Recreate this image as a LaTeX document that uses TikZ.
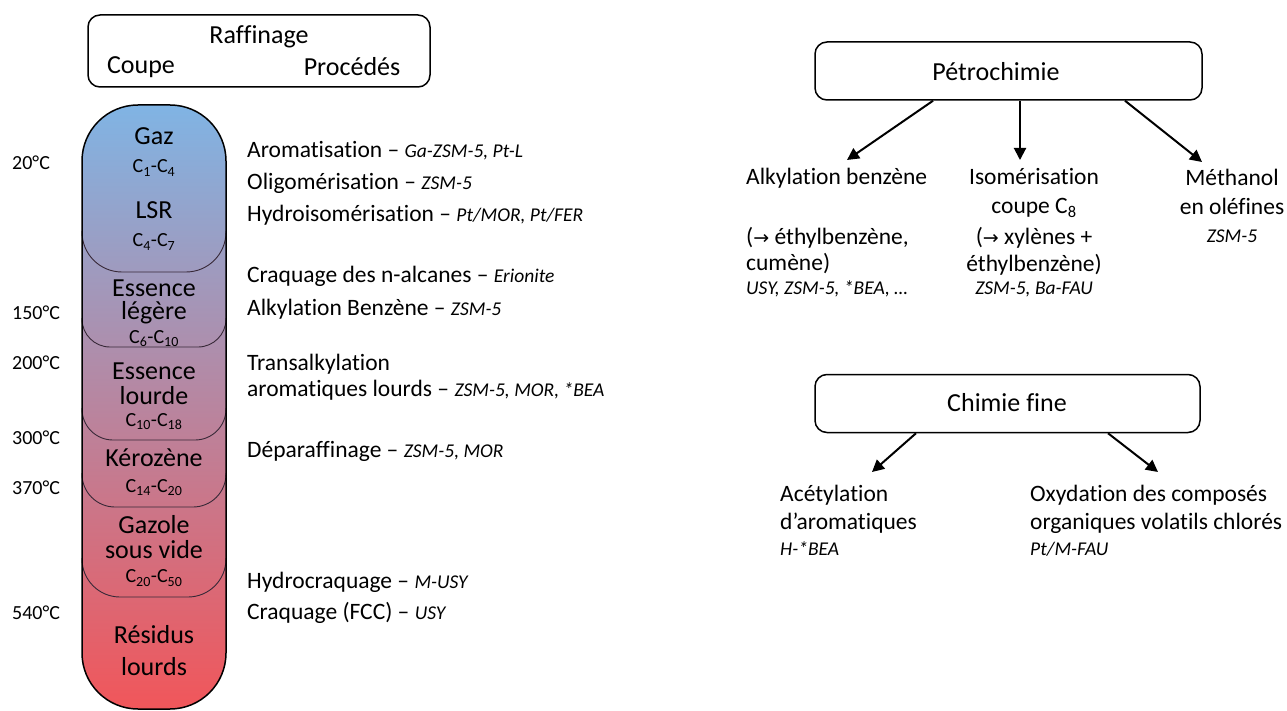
\documentclass[tikz,border=0pt]{standalone}
\usepackage{fontspec}
\setmainfont{Carlito}[Ligatures={TeX,NoCommon}]
\newfontfamily\symfont{DejaVu Sans}
\usetikzlibrary{arrows.meta}
\definecolor{colTop}{RGB}{128,180,228}
\definecolor{colMid}{RGB}{198,152,186}
\definecolor{colBot}{RGB}{241,86,90}
\definecolor{segcol}{RGB}{55,40,55}
\newcommand\zeo[1]{{\itshape\fontsize{19.5}{23}\selectfont #1}}
\newcommand\rarr{{\symfont\fontsize{19}{22}\selectfont →}}
\tikzset{
  frame/.style={draw, line width=1.5pt, rounded corners=12pt, inner sep=0pt},
  proc/.style={anchor=west, inner sep=0pt, font=\fontsize{23.5}{28}\selectfont},
  txt/.style={inner sep=0pt, font=\fontsize{23.5}{28}\selectfont},
  ital/.style={inner sep=0pt, font=\itshape\fontsize{19.5}{24}\selectfont},
  cut/.style={inner sep=0pt, font=\fontsize{26}{30}\selectfont},
  carb/.style={inner sep=0pt, font=\fontsize{20}{24}\selectfont},
  temp/.style={anchor=west, inner sep=0pt, font=\fontsize{20}{24}\selectfont},
  head/.style={inner sep=0pt, font=\fontsize{26}{30}\selectfont},
  segline/.style={draw=segcol, line width=0.9pt},
  arr/.style={line width=2pt, -{Triangle[length=12pt,width=12pt]}},
}
\begin{document}
\begin{tikzpicture}[x=1pt,y=-1pt]
\useasboundingbox (0,0) rectangle (1287,711);

% ---------- Raffinage header ----------
\node[frame, minimum width=342pt, minimum height=72pt] (raff) at (259,51) {};
\node[head] (raffT) at (259,37) {Raffinage};
\node[head] (coupe) at (141,67) {Coupe};
\node[head] (procs) at (352,67) {Procédés};

% ---------- column ----------
\path[top color=colTop, middle color=colMid, bottom color=colBot, rounded corners=56pt]
  (82,105) rectangle (226,709);
\foreach \b/\r in {272/40, 347/28, 440/31, 507/33, 597/38}
  \draw[segline, rounded corners=\r pt] (82,{\b-\r-1}) -- (82,\b) -- (226,\b) -- (226,{\b-\r-1});
\draw[line width=1.5pt, rounded corners=56pt] (82,105) rectangle (226,709);

\node[cut] (gaz) at (154,136) {Gaz};
\node[carb] (cgaz) at (154,168) {C\textsubscript{1}-C\textsubscript{4}};
\node[cut] (lsr) at (154,210) {LSR};
\node[carb] (clsr) at (154,242) {C\textsubscript{4}-C\textsubscript{7}};
\node[cut] (el1) at (154,288) {Essence};
\node[cut] (el2) at (154,313) {légère};
\node[carb] (cel) at (154,339) {C\textsubscript{6}-C\textsubscript{10}};
\node[cut] (eh1) at (154,371) {Essence};
\node[cut] (eh2) at (154,396) {lourde};
\node[carb] (ceh) at (154,422) {C\textsubscript{10}-C\textsubscript{18}};
\node[cut] (ker) at (154,458) {Kérozène};
\node[carb] (cker) at (154,488) {C\textsubscript{14}-C\textsubscript{20}};
\node[cut] (gv1) at (154,525) {Gazole};
\node[cut] (gv2) at (154,550) {sous vide};
\node[carb] (cgv) at (154,578) {C\textsubscript{20}-C\textsubscript{50}};
\node[cut] (rl1) at (154,635) {Résidus};
\node[cut] (rl2) at (154,667) {lourds};

% ---------- temperatures ----------
\node[temp] (t20) at (12,163) {20°C};
\node[temp] (t150) at (12,313) {150°C};
\node[temp] (t200) at (12,363) {200°C};
\node[temp] (t300) at (12,438) {300°C};
\node[temp] (t370) at (12,488) {370°C};
\node[temp] (t540) at (12,613) {540°C};

% ---------- processes ----------
\node[proc] (p1) at (247,151) {Aromatisation – \zeo{Ga-ZSM-5, Pt-L}};
\node[proc] (p2) at (247,183) {Oligomérisation – \zeo{ZSM-5}};
\node[proc] (p3) at (247,215) {Hydroisomérisation – \zeo{Pt/MOR, Pt/FER}};
\node[proc] (p4) at (247,276) {Craquage des n-alcanes – \zeo{Erionite}};
\node[proc] (p5) at (247,309) {Alkylation Benzène – \zeo{ZSM-5}};
\node[proc] (p6) at (247,364) {Transalkylation};
\node[proc] (p7) at (247,390) {aromatiques lourds – \zeo{ZSM-5, MOR, *BEA}};
\node[proc] (p8) at (247,451) {Déparaffinage – \zeo{ZSM-5, MOR}};
\node[proc] (p9) at (247,582) {Hydrocraquage – \zeo{M-USY}};
\node[proc] (p10) at (247,613) {Craquage (FCC) – \zeo{USY}};

% ---------- Pétrochimie ----------
\node[frame, minimum width=387pt, minimum height=58pt] (petro) at (1008.5,71) {};
\node[head] (petroT) at (996,72) {Pétrochimie};

\node[txt, anchor=west] (alk) at (746,178) {Alkylation benzène};
\node[txt, anchor=west, align=left, font=\fontsize{23.5}{26}\selectfont] (alk2) at (746,251) {(\rarr{} éthylbenzène,\\cumène)};
\node[ital, anchor=west] (alk3) at (746,289) {USY, ZSM-5, *BEA, …};

\node[txt, align=center, font=\fontsize{23.5}{29}\selectfont] (iso) at (1034,193) {Isomérisation\\coupe C\textsubscript{8}};
\node[txt, align=center, font=\fontsize{23.5}{27}\selectfont] (iso2) at (1034,251) {(\rarr{} xylènes +\\éthylbenzène)};
\node[ital] (iso3) at (1034,289) {ZSM-5, Ba-FAU};

\node[txt, align=center, font=\fontsize{23.5}{29}\selectfont] (meth) at (1232,191.5) {Méthanol\\en oléfines};
\node[ital] (meth2) at (1232,236) {ZSM-5};

\coordinate (tipA) at (847,160);
\coordinate (tipB) at (1020,160);
\coordinate (tipC) at (1202,162);
\draw[arr] ([xshift=-75.5pt]petro.south) -- (tipA);
\draw[arr] ([xshift=11.5pt]petro.south) -- (tipB);
\draw[arr] ([xshift=116.5pt]petro.south) -- (tipC);

% ---------- Chimie fine ----------
\node[frame, minimum width=385pt, minimum height=58pt] (fine) at (1007.5,403.5) {};
\node[head] (fineT) at (1007,403) {Chimie fine};

\node[txt, anchor=west, align=left, font=\fontsize{23.5}{28}\selectfont] (ace) at (780,509) {Acétylation\\d’aromatiques};
\node[ital, anchor=west] (ace2) at (780,549) {H-*BEA};
\node[txt, anchor=west, align=left, font=\fontsize{23.5}{28}\selectfont] (oxy) at (1030,509) {Oxydation des composés\\organiques volatils chlorés};
\node[ital, anchor=west] (oxy2) at (1030,549) {Pt/M-FAU};

\coordinate (tipD) at (872,472);
\coordinate (tipE) at (1158,472);
\draw[arr] ([xshift=-91.5pt]fine.south) -- (tipD);
\draw[arr] ([xshift=100.5pt]fine.south) -- (tipE);
\end{tikzpicture}
\end{document}
